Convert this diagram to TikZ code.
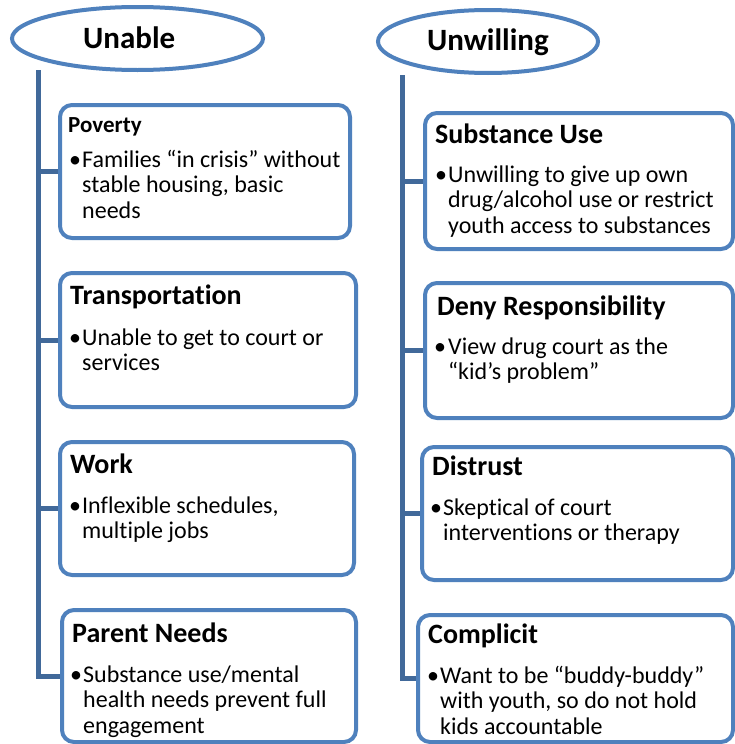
\documentclass[tikz,border=0pt]{standalone}
\usepackage{fontspec}
\setmainfont{Carlito}[Ligatures=NoCommon]
\usetikzlibrary{shapes.geometric}
\definecolor{boxblue}{HTML}{4F81BD}
\definecolor{linkblue}{HTML}{41699A}
\begin{document}
\begin{tikzpicture}[x=1pt,y=-1pt,
  catbox/.style={draw=boxblue, line width=4pt, rounded corners=12pt, fill=white, inner sep=0pt},
  oval/.style={ellipse, draw=boxblue, line width=4pt, fill=white, inner sep=0pt},
  link/.style={draw=linkblue, line width=5pt, line join=miter},
  title/.style={anchor=base west, inner sep=0pt, font=\bfseries\fontsize{31}{34}\selectfont},
  head/.style={anchor=base west, inner sep=0pt, font=\bfseries\fontsize{28}{30}\selectfont},
  smallhead/.style={anchor=base west, inner sep=0pt, font=\bfseries\fontsize{23}{25}\selectfont},
  body/.style={anchor=base west, inner sep=0pt, align=left, font=\fontsize{24}{25.8}\selectfont},
  dot/.style={anchor=base west, inner sep=0pt, xshift=-3pt, font=\fontsize{24}{25.8}\selectfont}]
\useasboundingbox (0,0) rectangle (735,744);
\fill[white] (0,0) rectangle (735,744);

% ellipses
\node[oval, minimum width=251pt, minimum height=63pt] (unable) at (137.5,38.5) {};
\node[oval, minimum width=220pt, minimum height=63pt] (unwill) at (488,41.5) {};
\node[title] (unablet) at (83,48) {Unable};
\node[title] (unwillt) at (427,50) {Unwilling};

% boxes
\node[catbox, minimum width=290pt, minimum height=133pt] (pov) at (205,171.5) {};
\node[catbox, minimum width=296pt, minimum height=134pt] (tra) at (208,340) {};
\node[catbox, minimum width=294pt, minimum height=133pt] (wrk) at (207,508.5) {};
\node[catbox, minimum width=294pt, minimum height=132pt] (par) at (209,676) {};
\node[catbox, minimum width=308pt, minimum height=136pt] (sub) at (579,181) {};
\node[catbox, minimum width=308pt, minimum height=135pt] (den) at (579,350.5) {};
\node[catbox, minimum width=311pt, minimum height=133pt] (dis) at (577.5,513.5) {};
\node[catbox, minimum width=315pt, minimum height=127pt] (com) at (575.5,678.5) {};

% connectors
\coordinate (ltop) at (38,70);
\coordinate (rtop) at (402,75);
\draw[link] (ltop) -- (ltop |- par.west) -- (par.west);
\draw[link] (ltop |- pov.west) -- (pov.west);
\draw[link] (ltop |- tra.west) -- (tra.west);
\draw[link] (ltop |- wrk.west) -- (wrk.west);
\draw[link] (rtop) -- (rtop |- com.west) -- (com.west);
\draw[link] (rtop |- sub.west) -- (sub.west);
\draw[link] (rtop |- den.west) -- (den.west);
\draw[link] (rtop |- dis.west) -- (dis.west);

% left texts (body nodes anchored at the baseline of their last line)
\node[smallhead] (povh) at (68,132) {Poverty};
\node[dot] (povd) at (72,167) {•};
\node[body] (povb) at (82,218.6) {Families “in crisis” without\\stable housing, basic\\needs};

\node[head] (trah) at (70,304) {Transportation};
\node[dot] (trad) at (72,345) {•};
\node[body] (trab) at (82,370.8) {Unable to get to court or\\services};

\node[head] (wrkh) at (70,473) {Work};
\node[dot] (wrkd) at (72,513) {•};
\node[body] (wrkb) at (82,538.8) {Inflexible schedules,\\multiple jobs};

\node[head] (parh) at (72,642) {Parent Needs};
\node[dot] (pard) at (73,682) {•};
\node[body] (parb) at (83,733.6) {Substance use/mental\\health needs prevent full\\engagement};

% right texts
\node[head] (subh) at (435,143) {Substance Use};
\node[dot] (subd) at (438,182) {•};
\node[body] (subb) at (448,233.6) {Unwilling to give up own\\drug/alcohol use or restrict\\youth access to substances};

\node[head] (denh) at (437,315) {Deny Responsibility};
\node[dot] (dend) at (437,354) {•};
\node[body] (denb) at (448,379.8) {View drug court as the\\“kid’s problem”};

\node[head] (dish) at (432,475) {Distrust};
\node[dot] (disd) at (433,515) {•};
\node[body] (disb) at (443,540.8) {Skeptical of court\\interventions or therapy};

\node[head] (comh) at (428,643) {Complicit};
\node[dot] (comd) at (430,683) {•};
\node[body] (comb) at (440,734.6) {Want to be “buddy-buddy”\\with youth, so do not hold\\kids accountable};
\end{tikzpicture}
\end{document}
